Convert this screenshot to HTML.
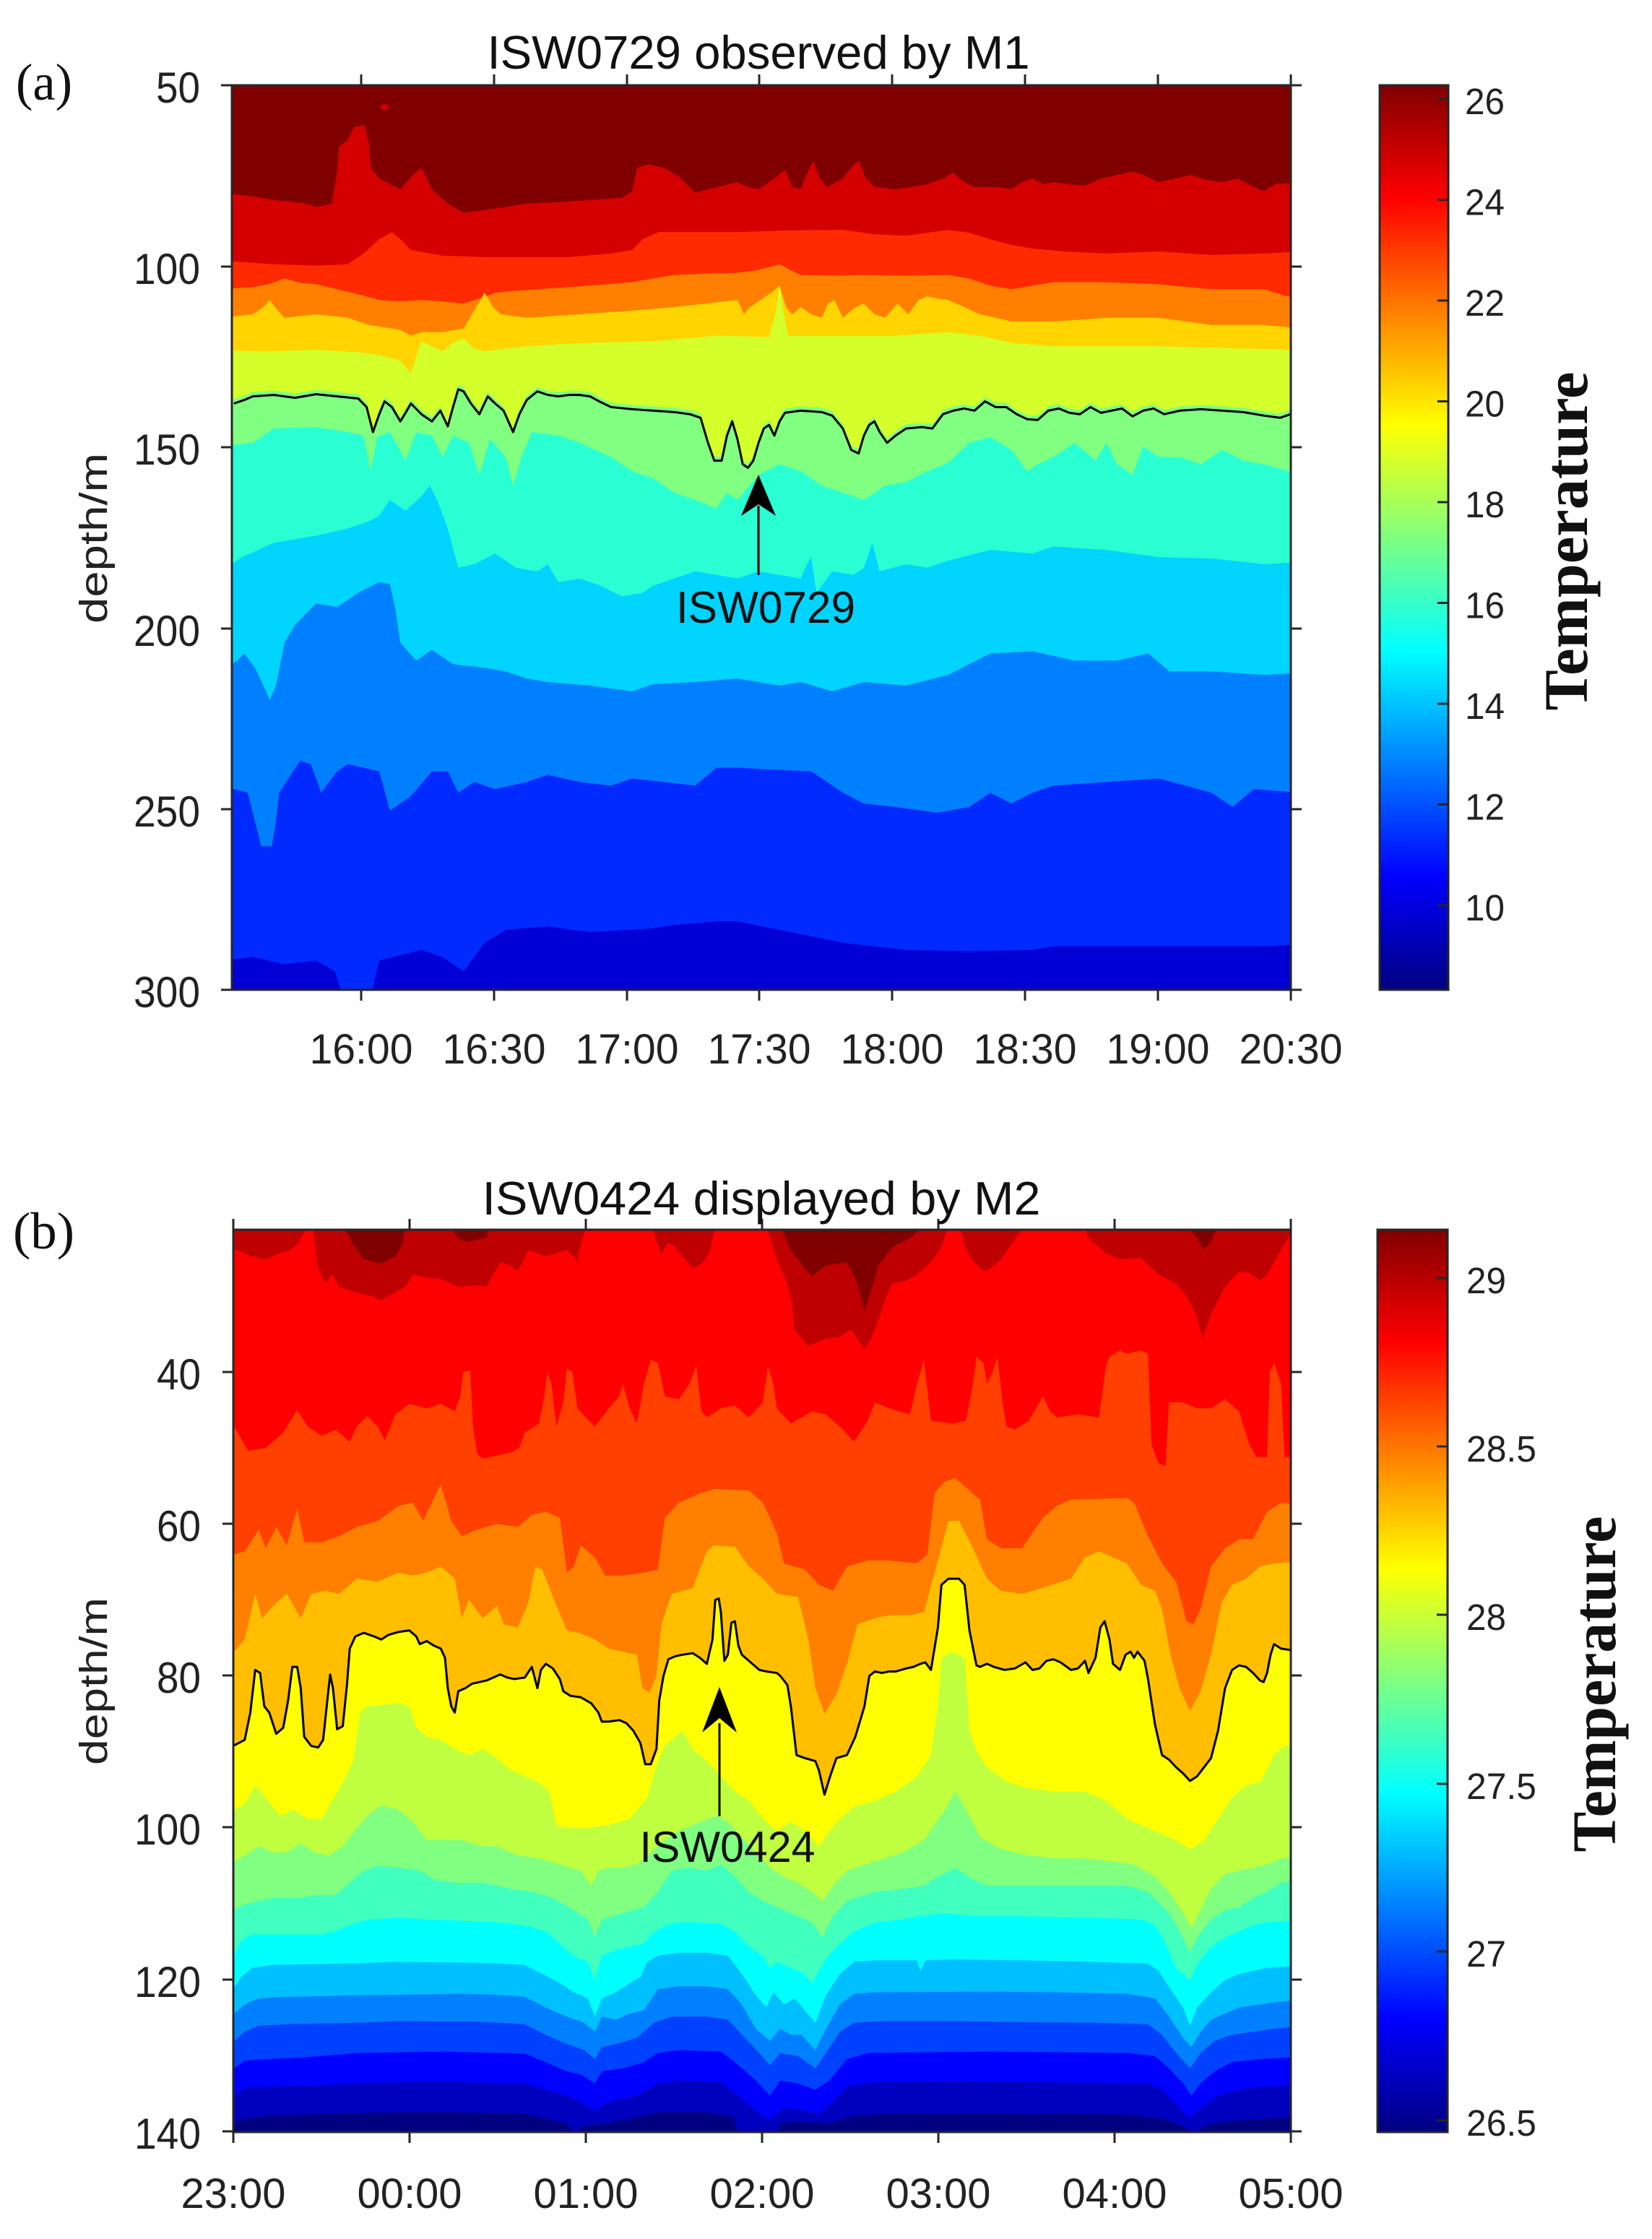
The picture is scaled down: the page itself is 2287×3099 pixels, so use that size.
<!DOCTYPE html>
<html><head><meta charset="utf-8"><style>
html,body{margin:0;padding:0;background:#fff;}
svg{display:block;}
.t{font-family:"Liberation Sans",Arial,sans-serif;fill:#222;}
.s{font-family:"Liberation Serif","Times New Roman",serif;fill:#111;}
</style></head><body>
<svg width="2287" height="3099" viewBox="0 0 2287 3099" xmlns="http://www.w3.org/2000/svg">
<defs>
<linearGradient id="jet" x1="0" y1="1" x2="0" y2="0">
<stop offset="0" stop-color="#000080"/><stop offset="0.125" stop-color="#0000FF"/><stop offset="0.375" stop-color="#00FFFF"/><stop offset="0.625" stop-color="#FFFF00"/><stop offset="0.875" stop-color="#FF0000"/><stop offset="1" stop-color="#800000"/>
</linearGradient>
<clipPath id="ca"><rect x="220.1" y="119.4" width="1005.1" height="1266.6"/></clipPath>
<clipPath id="cb"><rect x="23.7" y="52.3" width="1510.2" height="2967.4"/></clipPath>
</defs>
<rect width="2287" height="3099" fill="#fff"/>

<!-- ================= PANEL A ================= -->
<g transform="matrix(1.4585 0 0 0.9885 0 0)">
<g clip-path="url(#ca)">
<rect x="200" y="100" width="1050" height="1320" fill="#800000"/>
<polygon fill="#D40000" points="210,270 240,275 260,280 290,285 300,290 315,285 320,240 322,205 330,196 336,178 346,175 350,200 352,235 360,250 380,265 392,245 400,235 410,265 425,285 440,298 470,292 500,285 530,283 560,280 590,277 600,268 605,235 615,230 630,235 645,248 660,270 680,262 700,255 710,262 720,265 735,250 745,238 752,262 760,265 767,240 772,225 778,250 785,262 800,250 808,235 815,225 822,250 830,262 850,265 865,262 880,258 895,250 905,242 915,255 925,262 945,262 960,265 970,255 980,250 990,258 1000,255 1015,258 1030,260 1045,250 1060,245 1075,240 1085,245 1100,255 1115,250 1130,245 1145,252 1160,255 1175,250 1190,262 1200,268 1210,258 1235,255 1235,1400 210,1400"/>
<circle cx="365" cy="150" r="4" fill="#D40000"/>
<polygon fill="#FF2A00" points="210,365 240,368 260,370 300,372 330,370 345,355 360,335 372,325 380,335 390,350 420,358 460,360 500,360 540,360 580,355 600,350 610,335 625,325 660,325 700,325 740,323 780,322 800,322 830,328 860,330 880,326 900,322 920,326 940,335 960,343 980,348 1010,352 1050,355 1100,352 1150,357 1200,355 1235,352 1235,1400 210,1400"/>
<polygon fill="#FF8000" points="210,405 240,402 255,398 270,390 285,396 300,398 320,405 340,412 360,420 380,422 400,420 420,422 440,425 455,418 470,410 490,407 520,404 560,400 600,395 620,390 640,385 670,383 700,382 720,378 740,370 750,378 760,385 790,386 820,385 860,386 900,385 920,390 940,400 960,405 980,400 1000,395 1050,395 1100,398 1150,405 1200,405 1215,412 1235,420 1235,1400 210,1400"/>
<polygon fill="#FFD400" points="210,445 240,440 250,430 256,420 262,432 270,445 300,440 330,445 350,455 380,462 390,470 400,465 420,465 440,460 452,430 460,410 468,430 475,440 500,445 550,440 600,435 640,430 670,425 700,420 706,440 712,430 722,420 732,410 740,400 746,430 752,440 760,430 770,440 780,445 786,425 792,420 800,445 812,430 820,425 830,440 840,445 852,425 862,440 872,420 880,415 890,418 900,420 915,430 930,440 960,450 1000,450 1050,445 1100,445 1150,455 1200,455 1235,460 1235,1400 210,1400"/>
<polygon fill="#D4FF2A" points="210,490 250,492 300,490 340,493 360,497 380,505 390,522 395,500 400,478 410,485 420,492 430,480 440,474 450,488 460,492 480,488 500,485 530,482 560,480 590,479 620,478 650,474 680,470 710,471 730,472 736,440 740,400 744,440 748,470 770,470 800,470 850,470 900,465 930,470 960,480 1000,485 1100,485 1150,487 1235,490 1235,1400 210,1400"/>
<polygon fill="#80FF80" transform="translate(0,-6)" points="210,565 222,565 232,560 240,555 260,553 280,557 300,552 320,555 340,558 348,570 354,605 360,580 365,562 372,570 380,590 385,578 390,565 400,580 410,590 418,575 425,597 430,570 435,545 440,548 447,565 455,580 463,555 470,565 478,575 487,605 493,580 500,560 510,548 520,553 530,555 540,553 550,553 560,555 570,563 580,570 600,573 620,575 640,577 655,580 665,585 672,620 678,645 685,645 690,610 695,590 700,615 705,650 710,655 715,645 720,620 725,600 730,595 735,610 740,590 745,578 760,575 780,577 790,582 800,600 808,630 815,635 820,610 825,595 830,590 835,605 842,620 850,610 860,600 875,598 885,600 895,580 905,575 915,572 925,575 935,562 945,570 955,570 965,580 975,587 985,588 995,575 1005,572 1015,578 1025,580 1035,570 1045,578 1055,575 1065,572 1075,583 1085,575 1095,572 1105,580 1120,575 1140,573 1160,575 1180,577 1200,582 1215,585 1225,580 1235,580 1235,1400 210,1400"/>
<polygon fill="#2AFFD4" points="210,625 240,620 260,600 300,598 330,605 345,610 352,660 358,612 370,605 385,645 395,605 410,610 420,640 430,610 445,620 455,665 465,615 480,640 487,680 495,640 505,605 530,610 550,620 580,640 600,660 620,670 640,690 660,700 680,712 690,690 700,700 720,665 740,650 760,660 780,680 800,690 820,700 840,680 860,675 880,660 900,648 920,620 940,612 960,630 975,660 985,650 1000,640 1020,620 1040,645 1050,620 1060,650 1075,665 1085,625 1100,640 1120,640 1140,650 1160,630 1180,645 1200,650 1235,665 1235,1400 210,1400"/>
<polygon fill="#00D4FF" points="210,800 230,780 260,760 300,750 330,740 350,730 360,722 370,700 385,715 400,695 408,680 415,700 425,740 435,795 450,790 470,775 490,795 510,800 520,790 530,815 550,810 570,820 590,835 610,830 620,820 640,810 660,800 680,805 700,810 720,800 740,805 760,810 766,790 770,780 775,830 790,800 810,805 820,795 828,760 835,800 860,790 880,795 900,785 940,770 980,775 1000,765 1050,770 1100,780 1150,782 1200,790 1235,787 1235,1400 210,1400"/>
<polygon fill="#0080FF" points="210,940 225,925 232,915 242,935 250,960 256,980 262,960 270,900 280,875 290,860 300,845 320,850 340,830 360,815 370,818 375,850 380,900 395,925 410,910 430,930 460,935 480,940 500,950 520,955 560,960 600,968 620,958 660,955 700,950 740,960 760,955 790,968 820,955 860,960 900,945 920,930 940,915 980,912 1020,925 1060,925 1090,915 1110,940 1150,940 1200,945 1235,942 1235,1400 210,1400"/>
<polygon fill="#002AFF" points="210,1100 235,1110 242,1150 248,1185 258,1185 262,1150 265,1110 285,1065 295,1070 305,1110 320,1080 330,1070 345,1075 360,1080 370,1135 390,1115 410,1080 425,1080 435,1110 450,1095 470,1105 500,1095 520,1085 550,1095 580,1100 600,1090 630,1095 660,1100 680,1075 700,1075 740,1078 770,1080 800,1110 820,1125 850,1130 890,1138 920,1130 940,1110 960,1125 980,1110 1000,1100 1050,1095 1100,1090 1150,1110 1170,1130 1190,1105 1235,1110 1235,1400 210,1400"/>
<polygon fill="#0000D4" points="210,1345 240,1340 270,1350 300,1345 318,1360 325,1395 352,1395 360,1345 400,1330 420,1340 440,1360 460,1320 480,1302 520,1297 560,1305 620,1300 640,1295 680,1290 700,1290 760,1308 800,1320 860,1330 920,1332 980,1330 1000,1325 1100,1325 1200,1325 1235,1322 1235,1400 210,1400"/>
<polyline fill="none" stroke="#000" stroke-width="3" vector-effect="non-scaling-stroke" stroke-linejoin="round" points="222,565 232,560 240,555 260,553 280,557 300,552 320,555 340,558 348,570 354,605 360,580 365,562 372,570 380,590 385,578 390,565 400,580 410,590 418,575 425,597 430,570 435,545 440,548 447,565 455,580 463,555 470,565 478,575 487,605 493,580 500,560 510,548 520,553 530,555 540,553 550,553 560,555 570,563 580,570 600,573 620,575 640,577 655,580 665,585 672,620 678,645 685,645 690,610 695,590 700,615 705,650 710,655 715,645 720,620 725,600 730,595 735,610 740,590 745,578 760,575 780,577 790,582 800,600 808,630 815,635 820,610 825,595 830,590 835,605 842,620 850,610 860,600 875,598 885,600 895,580 905,575 915,572 925,575 935,562 945,570 955,570 965,580 975,587 985,588 995,575 1005,572 1015,578 1025,580 1035,570 1045,578 1055,575 1065,572 1075,583 1085,575 1095,572 1105,580 1120,575 1140,573 1160,575 1180,577 1200,582 1215,585 1225,580"/>
</g></g>

<!-- axes A -->
<rect x="321" y="118" width="1466" height="1252" fill="none" stroke="#262626" stroke-width="3"/>
<g stroke="#262626" stroke-width="3">
<path d="M500,1370v15M684,1370v15M868,1370v15M1051,1370v15M1235,1370v15M1419,1370v15M1603,1370v15M1787,1370v15"/>
<path d="M500,118v-15M684,118v-15M868,118v-15M1051,118v-15M1235,118v-15M1419,118v-15M1603,118v-15M1787,118v-15"/>
<path d="M321,118h-15M321,369h-15M321,619h-15M321,870h-15M321,1120h-15M321,1370h-15"/>
<path d="M1787,118h15M1787,369h15M1787,619h15M1787,870h15M1787,1120h15M1787,1370h15"/>
</g>
<!-- arrow A -->
<line x1="1050" y1="796" x2="1050" y2="700" stroke="#000" stroke-width="3"/>
<polygon points="1050,657 1026,714 1050,698 1074,714" fill="#000"/>
<text class="t" x="1060" y="862" font-size="62" text-anchor="middle" textLength="248" lengthAdjust="spacingAndGlyphs" style="fill:#111">ISW0729</text>

<text class="s" x="22" y="138" font-size="72" textLength="78" lengthAdjust="spacingAndGlyphs">(a)</text>
<text class="t" x="1050" y="95" font-size="65" text-anchor="middle" textLength="751" lengthAdjust="spacingAndGlyphs" style="fill:#111">ISW0729 observed by M1</text>
<g class="t" font-size="60" text-anchor="end">
<text x="277" y="142" textLength="61" lengthAdjust="spacingAndGlyphs">50</text>
<text x="277" y="393" textLength="92" lengthAdjust="spacingAndGlyphs">100</text>
<text x="277" y="643" textLength="92" lengthAdjust="spacingAndGlyphs">150</text>
<text x="277" y="894" textLength="92" lengthAdjust="spacingAndGlyphs">200</text>
<text x="277" y="1144" textLength="92" lengthAdjust="spacingAndGlyphs">250</text>
<text x="277" y="1394" textLength="92" lengthAdjust="spacingAndGlyphs">300</text>
</g>
<g class="t" font-size="58" text-anchor="middle">
<text x="500" y="1472" textLength="143" lengthAdjust="spacingAndGlyphs">16:00</text>
<text x="684" y="1472" textLength="143" lengthAdjust="spacingAndGlyphs">16:30</text>
<text x="868" y="1472" textLength="143" lengthAdjust="spacingAndGlyphs">17:00</text>
<text x="1051" y="1472" textLength="143" lengthAdjust="spacingAndGlyphs">17:30</text>
<text x="1235" y="1472" textLength="143" lengthAdjust="spacingAndGlyphs">18:00</text>
<text x="1419" y="1472" textLength="143" lengthAdjust="spacingAndGlyphs">18:30</text>
<text x="1603" y="1472" textLength="143" lengthAdjust="spacingAndGlyphs">19:00</text>
<text x="1787" y="1472" textLength="143" lengthAdjust="spacingAndGlyphs">20:30</text>
</g>
<text class="t" transform="translate(148,745) rotate(-90)" x="0" y="0" font-size="54" text-anchor="middle" textLength="236" lengthAdjust="spacingAndGlyphs">depth/m</text>

<!-- colorbar A -->
<rect x="1910" y="118" width="95" height="1252" fill="url(#jet)" stroke="#262626" stroke-width="3"/>
<g stroke="#262626" stroke-width="3">
<path d="M2005,137h-15M2005,276.5h-15M2005,416h-15M2005,555.5h-15M2005,695h-15M2005,834.5h-15M2005,974h-15M2005,1113.5h-15M2005,1253h-15"/>
</g>
<g class="t" font-size="51">
<text x="2028" y="158" textLength="55" lengthAdjust="spacingAndGlyphs">26</text>
<text x="2028" y="297.5" textLength="55" lengthAdjust="spacingAndGlyphs">24</text>
<text x="2028" y="437" textLength="55" lengthAdjust="spacingAndGlyphs">22</text>
<text x="2028" y="576.5" textLength="55" lengthAdjust="spacingAndGlyphs">20</text>
<text x="2028" y="716" textLength="55" lengthAdjust="spacingAndGlyphs">18</text>
<text x="2028" y="855.5" textLength="55" lengthAdjust="spacingAndGlyphs">16</text>
<text x="2028" y="995" textLength="55" lengthAdjust="spacingAndGlyphs">14</text>
<text x="2028" y="1134.5" textLength="55" lengthAdjust="spacingAndGlyphs">12</text>
<text x="2028" y="1274" textLength="55" lengthAdjust="spacingAndGlyphs">10</text>
</g>
<text class="s" transform="translate(2197,749) rotate(-90)" x="0" y="0" font-size="86" font-weight="bold" text-anchor="middle" textLength="469" lengthAdjust="spacingAndGlyphs">Temperature</text>

<!-- ================= PANEL B ================= -->
<g transform="matrix(0.9694 0 0 0.4209 300 1680)">
<g clip-path="url(#cb)">
<rect x="0" y="30" width="1580" height="3020" fill="#FF0000"/>
<polygon fill="#BF0000" points="0,40 0,90 30,120 50,140 70,150 90,130 105,120 115,100 125,60 130,40 137,40 140,100 145,180 155,230 165,200 175,240 200,260 220,270 235,285 250,265 270,240 280,200 300,210 320,215 345,240 370,235 385,240 395,200 405,160 420,170 430,190 445,120 470,140 500,120 510,140 515,160 520,100 528,40 622,40 628,90 635,130 645,95 655,110 665,140 680,180 695,160 705,120 712,40 785,40 790,80 800,150 815,230 822,300 825,380 835,410 845,435 870,410 890,405 905,380 915,410 925,445 935,410 945,350 955,280 965,230 985,220 1000,200 1020,160 1035,110 1045,40 1060,40 1068,100 1075,140 1090,180 1100,190 1120,150 1135,100 1150,50 1155,40 1240,40 1245,80 1270,130 1290,150 1320,145 1345,200 1370,230 1385,270 1400,340 1408,410 1420,330 1440,240 1460,190 1475,195 1490,220 1500,200 1515,140 1535,60 1560,40"/>
<polygon fill="#800000" points="180,40 195,100 210,150 235,165 255,140 265,100 270,40"/>
<polygon fill="#800000" points="335,40 345,85 360,92 385,80 390,40"/>
<polygon fill="#800000" points="805,40 820,120 840,180 850,205 870,170 900,160 915,230 925,320 935,250 945,170 965,110 990,80 1010,40"/>
<polygon fill="#800000" points="1385,40 1400,80 1410,120 1420,90 1430,40"/>
<polygon fill="#FF4000" points="0,700 25,700 45,780 70,770 95,720 115,645 130,700 150,730 170,710 190,750 200,700 215,665 230,700 240,745 255,660 275,625 300,640 320,625 340,650 348,600 352,520 362,515 366,700 372,790 380,805 400,795 420,785 432,770 440,720 460,690 468,600 472,520 478,560 485,700 495,620 500,510 508,520 515,640 540,700 560,640 575,600 580,560 590,640 600,690 610,560 620,480 630,490 640,600 660,610 675,560 685,500 692,650 700,670 720,640 740,630 760,670 780,620 787,500 795,560 800,640 820,690 850,650 870,660 890,700 910,750 930,680 940,620 960,640 990,660 1000,560 1010,480 1020,680 1050,690 1070,680 1080,560 1085,470 1095,490 1100,560 1108,520 1115,470 1122,620 1128,700 1140,710 1160,680 1180,600 1190,650 1200,670 1230,660 1260,670 1270,500 1275,470 1290,450 1300,460 1320,450 1330,460 1335,760 1345,820 1355,830 1360,620 1380,620 1400,640 1420,640 1440,610 1460,650 1475,760 1485,800 1500,800 1504,520 1510,490 1520,560 1525,800 1560,800 1560,3040 0,3040"/>
<polygon fill="#FF8000" points="0,1120 25,1120 40,1110 60,1040 70,1100 85,1030 100,1090 115,970 125,1080 150,1080 175,1060 200,1030 230,1010 260,960 280,950 295,1010 305,960 320,890 335,1010 350,1060 370,1040 400,1020 430,1030 450,990 470,980 490,1000 500,1180 510,1160 520,1090 540,1130 555,1190 580,1190 610,1180 630,1170 640,1000 660,950 690,920 710,905 760,910 780,950 800,1050 810,1150 840,1170 860,1220 880,1240 900,1160 930,1140 960,1140 1000,1150 1015,1120 1025,920 1040,880 1055,870 1070,900 1090,940 1100,1070 1120,1100 1150,1100 1180,1000 1200,960 1220,940 1300,935 1310,950 1330,1060 1350,1150 1370,1210 1385,1340 1395,1350 1405,1300 1420,1160 1440,1100 1460,1070 1480,1070 1500,980 1520,950 1560,960 1560,3040 0,3040"/>
<polygon fill="#FFBF00" points="0,1440 25,1440 40,1400 55,1250 65,1330 85,1280 100,1250 120,1330 135,1250 155,1240 175,1250 200,1200 230,1210 260,1180 280,1190 300,1180 320,1160 340,1200 350,1330 360,1270 380,1330 400,1290 410,1350 430,1360 445,1280 455,1160 465,1170 480,1260 500,1370 520,1380 540,1400 560,1430 580,1440 600,1450 608,1560 618,1575 628,1520 635,1350 650,1250 680,1230 700,1110 710,1090 740,1095 760,1160 780,1200 800,1250 830,1260 845,1400 855,1560 868,1645 885,1580 900,1480 915,1350 940,1330 960,1320 990,1320 1010,1310 1030,1140 1045,1010 1060,1010 1080,1100 1100,1200 1120,1240 1150,1250 1180,1230 1220,1200 1240,1130 1260,1110 1280,1130 1300,1150 1320,1220 1340,1240 1350,1300 1362,1450 1375,1560 1390,1635 1405,1570 1420,1450 1435,1280 1450,1220 1470,1200 1490,1160 1510,1150 1560,1140 1560,3040 0,3040"/>
<polygon fill="#FFFF00" points="0,1748 25,1748 40,1730 48,1640 55,1500 62,1510 68,1620 75,1640 85,1710 95,1690 102,1600 108,1490 115,1490 120,1560 125,1720 135,1750 145,1755 152,1730 158,1600 162,1515 166,1560 172,1695 180,1685 186,1550 190,1430 198,1390 210,1378 225,1390 235,1400 245,1385 260,1375 275,1370 285,1390 290,1415 300,1405 310,1420 320,1430 326,1460 330,1560 335,1620 340,1640 345,1570 355,1560 365,1545 375,1540 385,1535 395,1525 405,1515 415,1525 425,1530 440,1525 450,1490 458,1560 463,1500 470,1480 480,1495 490,1530 495,1570 505,1585 520,1590 535,1610 545,1640 550,1670 560,1670 575,1665 585,1675 595,1700 605,1740 612,1810 620,1810 628,1760 632,1600 638,1520 645,1465 655,1455 665,1450 680,1445 690,1460 700,1480 708,1400 712,1270 717,1265 720,1310 725,1470 730,1450 735,1345 740,1340 745,1420 750,1450 760,1470 775,1500 785,1505 800,1510 805,1520 815,1550 820,1620 828,1780 840,1790 855,1800 860,1830 868,1910 876,1850 885,1790 900,1780 912,1720 925,1620 932,1520 940,1505 950,1510 960,1505 970,1505 985,1495 995,1490 1005,1480 1012,1475 1020,1500 1030,1360 1035,1220 1045,1200 1060,1200 1068,1220 1075,1370 1085,1485 1090,1490 1100,1480 1110,1490 1125,1500 1140,1495 1155,1475 1165,1500 1175,1495 1185,1470 1195,1465 1205,1475 1220,1500 1230,1495 1240,1470 1245,1510 1255,1460 1262,1360 1268,1340 1275,1400 1280,1480 1290,1500 1298,1450 1305,1440 1310,1460 1315,1440 1325,1470 1330,1530 1340,1680 1350,1780 1360,1795 1370,1820 1380,1840 1390,1865 1400,1850 1410,1820 1420,1790 1430,1700 1440,1560 1450,1500 1460,1485 1470,1490 1480,1510 1490,1535 1495,1540 1500,1510 1505,1450 1510,1415 1520,1430 1535,1435 1560,1435 1560,3040 0,3040"/>
<polygon fill="#BFFF40" points="0,1960 25,1960 40,1940 55,1880 70,1920 90,1980 110,1960 130,1990 150,1990 165,1930 180,1870 195,1800 205,1640 215,1620 260,1610 275,1620 285,1690 300,1720 320,1730 340,1760 360,1780 380,1760 400,1790 420,1830 440,1850 460,1870 475,1900 485,2010 500,2020 530,2020 560,2010 590,1990 615,1920 630,1800 640,1750 655,1720 665,1700 680,1760 700,1800 720,1850 740,1900 760,1930 780,1990 800,2030 820,2000 840,2030 860,2080 875,2030 890,1990 910,1950 940,1930 970,1900 1000,1850 1020,1780 1030,1620 1035,1460 1050,1440 1068,1460 1075,1700 1085,1770 1100,1820 1130,1870 1160,1890 1200,1900 1240,1900 1270,1930 1300,1990 1330,2020 1350,2040 1370,2060 1390,2090 1410,2060 1430,1990 1450,1920 1470,1880 1490,1870 1510,1780 1525,1750 1560,1745 1560,3040 0,3040"/>
<polygon fill="#80FF80" points="0,2130 25,2130 40,2110 60,2080 80,2100 100,2100 120,2070 140,2100 160,2110 180,2080 200,2020 215,1980 235,1945 260,1960 280,2000 300,2060 320,2060 350,2060 380,2080 400,2080 430,2110 460,2120 490,2140 520,2160 535,2210 545,2160 560,2150 580,2150 600,2140 620,2100 640,2060 660,2030 680,2010 700,1990 715,1980 730,2000 750,2050 770,2100 790,2150 810,2180 830,2200 850,2230 865,2260 880,2210 900,2160 940,2130 980,2100 1010,2060 1040,1960 1055,1900 1070,1960 1090,2050 1120,2090 1160,2110 1200,2120 1240,2120 1280,2130 1310,2140 1340,2180 1360,2230 1380,2300 1392,2350 1405,2290 1420,2220 1440,2170 1460,2160 1480,2150 1500,2140 1520,2120 1560,2110 1560,3040 0,3040"/>
<polygon fill="#40FFBF" points="0,2290 25,2290 40,2270 60,2260 80,2250 120,2250 140,2240 170,2240 190,2200 210,2160 230,2145 260,2150 290,2160 310,2190 340,2200 380,2200 420,2220 450,2230 480,2250 510,2290 530,2320 540,2380 550,2320 580,2300 610,2280 630,2230 650,2160 670,2150 700,2160 720,2140 740,2180 760,2230 780,2260 800,2280 820,2300 850,2330 865,2380 880,2310 900,2260 940,2230 980,2220 1010,2210 1030,2180 1055,2150 1080,2190 1100,2210 1300,2210 1330,2230 1360,2300 1380,2380 1390,2430 1400,2380 1420,2320 1440,2290 1460,2280 1480,2250 1500,2230 1520,2200 1560,2190 1560,3040 0,3040"/>
<polygon fill="#00FFFF" points="0,2440 25,2440 35,2390 50,2370 150,2370 180,2350 200,2330 220,2320 260,2315 300,2320 350,2325 400,2330 440,2340 470,2360 490,2400 510,2440 530,2460 540,2520 550,2440 570,2420 590,2410 610,2400 620,2370 640,2340 660,2330 690,2330 720,2335 740,2360 760,2410 780,2440 790,2480 800,2460 820,2480 840,2500 850,2530 870,2450 890,2400 910,2360 940,2330 980,2320 1000,2310 1040,2300 1080,2310 1150,2310 1250,2315 1320,2320 1340,2340 1355,2400 1370,2480 1390,2520 1400,2470 1420,2410 1440,2380 1460,2360 1480,2340 1500,2330 1560,2320 1560,3040 0,3040"/>
<polygon fill="#00BFFF" points="0,2545 25,2545 35,2510 50,2480 80,2470 200,2465 250,2460 350,2462 400,2465 440,2470 465,2500 490,2530 510,2560 530,2580 540,2640 550,2580 570,2560 590,2530 605,2510 615,2460 630,2440 660,2430 700,2430 730,2440 750,2500 770,2570 785,2610 795,2560 810,2600 825,2580 840,2620 855,2660 870,2570 890,2500 910,2460 940,2455 1000,2455 1005,2490 1012,2455 1050,2452 1150,2455 1250,2460 1330,2465 1345,2490 1365,2560 1380,2610 1390,2670 1400,2610 1420,2560 1440,2520 1460,2500 1480,2490 1500,2480 1560,2470 1560,3040 0,3040"/>
<polygon fill="#0080FF" points="0,2630 25,2630 40,2600 60,2580 100,2575 200,2570 350,2565 400,2568 440,2575 470,2610 500,2640 525,2660 540,2690 550,2640 570,2650 590,2630 610,2620 630,2550 660,2540 700,2540 730,2550 750,2600 770,2680 790,2720 805,2680 820,2700 835,2700 855,2750 870,2680 890,2600 910,2565 940,2560 1100,2558 1200,2560 1300,2565 1340,2580 1360,2640 1380,2710 1392,2740 1405,2690 1420,2650 1440,2630 1460,2610 1490,2600 1520,2590 1560,2585 1560,3040 0,3040"/>
<polygon fill="#0040FF" points="0,2720 25,2720 40,2690 60,2670 100,2665 200,2660 260,2655 380,2657 440,2665 470,2700 500,2730 525,2750 540,2780 550,2740 570,2730 600,2710 625,2660 650,2640 700,2640 730,2650 750,2700 775,2760 790,2800 805,2760 830,2770 855,2810 870,2760 890,2690 910,2660 950,2655 1050,2655 1150,2658 1250,2660 1330,2665 1350,2700 1370,2760 1390,2810 1405,2760 1425,2720 1450,2700 1480,2690 1510,2680 1560,2670 1560,3040 0,3040"/>
<polygon fill="#0000FF" points="0,2810 25,2810 40,2785 70,2780 120,2775 200,2760 320,2755 440,2762 470,2790 500,2820 520,2830 540,2860 550,2820 580,2810 610,2790 630,2760 660,2750 720,2755 745,2800 770,2850 790,2900 805,2850 830,2860 855,2880 875,2850 900,2780 930,2760 1100,2755 1300,2760 1340,2770 1360,2810 1380,2860 1392,2900 1405,2860 1425,2820 1450,2790 1490,2780 1560,2770 1560,3040 0,3040"/>
<polygon fill="#0000BF" points="0,2900 25,2900 40,2875 70,2870 150,2865 250,2855 350,2855 440,2860 470,2880 500,2900 520,2920 540,2950 560,2920 600,2900 630,2860 660,2850 720,2855 745,2900 775,2960 790,2980 810,2940 835,2945 860,2960 880,2920 900,2870 940,2855 1050,2852 1200,2855 1330,2860 1350,2880 1370,2930 1390,2975 1405,2940 1430,2900 1460,2880 1500,2870 1560,2865 1560,3040 0,3040"/>
<polygon fill="#000080" points="0,2990 25,2990 40,2975 80,2965 150,2960 250,2955 350,2955 440,2960 470,2975 500,2990 512,3030 525,3000 560,2990 600,2970 630,2955 700,2955 738,2970 745,3030 800,3030 805,2990 830,2985 880,2990 900,2970 950,2960 1100,2958 1300,2962 1350,2975 1380,3000 1395,3030 1410,3000 1440,2985 1500,2975 1560,2970 1560,3040 0,3040"/>
<polyline fill="none" stroke="#000" stroke-width="3" vector-effect="non-scaling-stroke" stroke-linejoin="round" points="25,1748 40,1730 48,1640 55,1500 62,1510 68,1620 75,1640 85,1710 95,1690 102,1600 108,1490 115,1490 120,1560 125,1720 135,1750 145,1755 152,1730 158,1600 162,1515 166,1560 172,1695 180,1685 186,1550 190,1430 198,1390 210,1378 225,1390 235,1400 245,1385 260,1375 275,1370 285,1390 290,1415 300,1405 310,1420 320,1430 326,1460 330,1560 335,1620 340,1640 345,1570 355,1560 365,1545 375,1540 385,1535 395,1525 405,1515 415,1525 425,1530 440,1525 450,1490 458,1560 463,1500 470,1480 480,1495 490,1530 495,1570 505,1585 520,1590 535,1610 545,1640 550,1670 560,1670 575,1665 585,1675 595,1700 605,1740 612,1810 620,1810 628,1760 632,1600 638,1520 645,1465 655,1455 665,1450 680,1445 690,1460 700,1480 708,1400 712,1270 717,1265 720,1310 725,1470 730,1450 735,1345 740,1340 745,1420 750,1450 760,1470 775,1500 785,1505 800,1510 805,1520 815,1550 820,1620 828,1780 840,1790 855,1800 860,1830 868,1910 876,1850 885,1790 900,1780 912,1720 925,1620 932,1520 940,1505 950,1510 960,1505 970,1505 985,1495 995,1490 1005,1480 1012,1475 1020,1500 1030,1360 1035,1220 1045,1200 1060,1200 1068,1220 1075,1370 1085,1485 1090,1490 1100,1480 1110,1490 1125,1500 1140,1495 1155,1475 1165,1500 1175,1495 1185,1470 1195,1465 1205,1475 1220,1500 1230,1495 1240,1470 1245,1510 1255,1460 1262,1360 1268,1340 1275,1400 1280,1480 1290,1500 1298,1450 1305,1440 1310,1460 1315,1440 1325,1470 1330,1530 1340,1680 1350,1780 1360,1795 1370,1820 1380,1840 1390,1865 1400,1850 1410,1820 1420,1790 1430,1700 1440,1560 1450,1500 1460,1485 1470,1490 1480,1510 1490,1535 1495,1540 1500,1510 1505,1450 1510,1415 1520,1430 1535,1435"/>
</g></g>

<!-- axes B -->
<rect x="323" y="1702" width="1464" height="1249" fill="none" stroke="#262626" stroke-width="3"/>
<g stroke="#262626" stroke-width="3">
<path d="M323,2951v15M567,2951v15M811,2951v15M1055,2951v15M1299,2951v15M1543,2951v15M1787,2951v15"/>
<path d="M323,1702v-15M567,1702v-15M811,1702v-15M1055,1702v-15M1299,1702v-15M1543,1702v-15M1787,1702v-15"/>
<path d="M323,1899h-15M323,2109h-15M323,2319h-15M323,2529h-15M323,2740h-15M323,2950h-15"/>
<path d="M1787,1899h15M1787,2109h15M1787,2319h15M1787,2529h15M1787,2740h15M1787,2950h15"/>
</g>
<!-- arrow B -->
<line x1="996" y1="2514" x2="996" y2="2385" stroke="#000" stroke-width="3"/>
<polygon points="996,2335 972,2398 996,2378 1020,2398" fill="#000"/>
<text class="t" x="1007" y="2577" font-size="60" text-anchor="middle" textLength="243" lengthAdjust="spacingAndGlyphs" style="fill:#111">ISW0424</text>

<text class="s" x="18" y="1728" font-size="72" textLength="85" lengthAdjust="spacingAndGlyphs">(b)</text>
<text class="t" x="1054" y="1681" font-size="65" text-anchor="middle" textLength="773" lengthAdjust="spacingAndGlyphs" style="fill:#111">ISW0424 displayed by M2</text>
<g class="t" font-size="60" text-anchor="end">
<text x="278" y="1923" textLength="61" lengthAdjust="spacingAndGlyphs">40</text>
<text x="278" y="2133" textLength="61" lengthAdjust="spacingAndGlyphs">60</text>
<text x="278" y="2343" textLength="61" lengthAdjust="spacingAndGlyphs">80</text>
<text x="278" y="2553" textLength="92" lengthAdjust="spacingAndGlyphs">100</text>
<text x="278" y="2764" textLength="92" lengthAdjust="spacingAndGlyphs">120</text>
<text x="278" y="2974" textLength="92" lengthAdjust="spacingAndGlyphs">140</text>
</g>
<g class="t" font-size="58" text-anchor="middle">
<text x="323" y="3056" textLength="145" lengthAdjust="spacingAndGlyphs">23:00</text>
<text x="567" y="3056" textLength="145" lengthAdjust="spacingAndGlyphs">00:00</text>
<text x="811" y="3056" textLength="145" lengthAdjust="spacingAndGlyphs">01:00</text>
<text x="1055" y="3056" textLength="145" lengthAdjust="spacingAndGlyphs">02:00</text>
<text x="1299" y="3056" textLength="145" lengthAdjust="spacingAndGlyphs">03:00</text>
<text x="1543" y="3056" textLength="145" lengthAdjust="spacingAndGlyphs">04:00</text>
<text x="1787" y="3056" textLength="145" lengthAdjust="spacingAndGlyphs">05:00</text>
</g>
<text class="t" transform="translate(148,2327) rotate(-90)" x="0" y="0" font-size="54" text-anchor="middle" textLength="232" lengthAdjust="spacingAndGlyphs">depth/m</text>

<!-- colorbar B -->
<rect x="1907" y="1702" width="97" height="1249" fill="url(#jet)" stroke="#262626" stroke-width="3"/>
<g stroke="#262626" stroke-width="3">
<path d="M2004,1769h-15M2004,2002h-15M2004,2235h-15M2004,2469h-15M2004,2701h-15M2004,2935h-15"/>
</g>
<g class="t" font-size="51">
<text x="2030" y="1790" textLength="55" lengthAdjust="spacingAndGlyphs">29</text>
<text x="2030" y="2023" textLength="97" lengthAdjust="spacingAndGlyphs">28.5</text>
<text x="2030" y="2256" textLength="55" lengthAdjust="spacingAndGlyphs">28</text>
<text x="2030" y="2490" textLength="97" lengthAdjust="spacingAndGlyphs">27.5</text>
<text x="2030" y="2722" textLength="55" lengthAdjust="spacingAndGlyphs">27</text>
<text x="2030" y="2956" textLength="97" lengthAdjust="spacingAndGlyphs">26.5</text>
</g>
<text class="s" transform="translate(2236,2331) rotate(-90)" x="0" y="0" font-size="86" font-weight="bold" text-anchor="middle" textLength="465" lengthAdjust="spacingAndGlyphs">Temperature</text>
</svg>
</body></html>
